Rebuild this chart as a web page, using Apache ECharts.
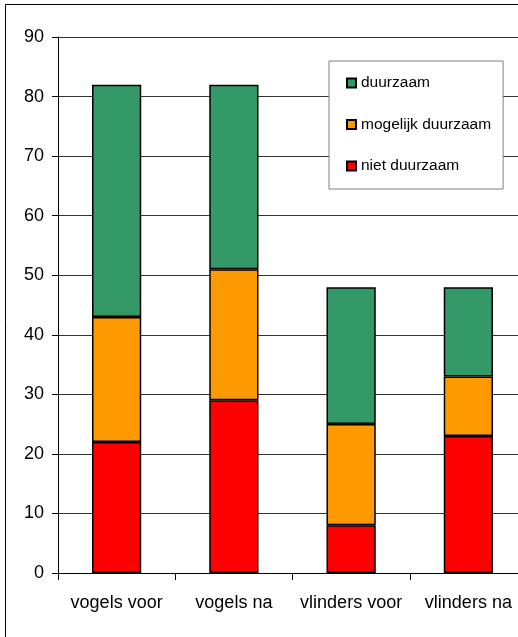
<!DOCTYPE html>
<html>
<head>
<meta charset="utf-8">
<script src="https://cdn.jsdelivr.net/npm/echarts@6/dist/echarts.min.js"></script>
<style>
  html, body { margin: 0; padding: 0; background: #fff; overflow: hidden; }
  #chart { width: 527px; height: 637px; }
</style>
</head>
<body>
<div id="chart"></div>
<script>
// Categories and stacked values per sustainability class
const categories = ['vogels voor', 'vogels na', 'vlinders voor', 'vlinders na'];
const nietDuurzaam = [22, 29, 8, 23];
const mogelijkDuurzaam = [21, 22, 17, 10];
const duurzaam = [39, 31, 23, 15];
const yTicks = [0, 10, 20, 30, 40, 50, 60, 70, 80, 90];

const font = 'Liberation Sans, Arial, sans-serif';

function barSeries(name, values, color) {
  return {
    name: name,
    type: 'bar',
    stack: 'totaal',
    data: values,
    barWidth: '42%',
    itemStyle: { color: color, borderColor: '#000', borderWidth: 1.5 },
    emphasis: { disabled: true }
  };
}

const chart = echarts.init(document.getElementById('chart'));
chart.setOption({
  animation: false,
  backgroundColor: '#fff',
  graphic: [{
    type: 'rect',
    shape: { x: 5.5, y: 4.5, width: 700, height: 800 },
    style: { fill: 'none', stroke: '#000', lineWidth: 1 },
    z: 100
  }],
  grid: { left: 58, top: 37, right: 0, bottom: 64, containLabel: false },
  legend: {
    data: ['duurzaam', 'mogelijk duurzaam', 'niet duurzaam'],
    orient: 'vertical',
    left: 329,
    top: 61,
    padding: [13, 12, 14, 17],
    itemGap: 23.5,
    itemWidth: 9,
    itemHeight: 9,
    icon: 'rect',
    backgroundColor: '#fff',
    borderColor: '#808080',
    borderWidth: 1,
    textStyle: { fontFamily: font, fontSize: 15.5, lineHeight: 18, color: '#000', padding: [0, 0, 0, 0] }
  },
  xAxis: {
    type: 'category',
    data: categories,
    axisLine: { lineStyle: { color: '#000', width: 1 } },
    axisTick: { show: true, interval: 0, length: 7, lineStyle: { color: '#000' } },
    axisLabel: { interval: 0, fontFamily: font, fontSize: 18, color: '#000', margin: 21 }
  },
  yAxis: {
    type: 'value',
    min: 0,
    max: 90,
    interval: 10,
    axisLine: { show: true, lineStyle: { color: '#000', width: 1 } },
    axisTick: { show: true, length: 6, lineStyle: { color: '#000' } },
    axisLabel: {
      fontFamily: font, fontSize: 18, color: '#000', margin: 14,
      formatter: v => (yTicks.includes(v) ? String(v) : '')
    },
    splitLine: { show: true, lineStyle: { color: '#333', width: 1 } }
  },
  series: [
    barSeries('niet duurzaam', nietDuurzaam, '#FF0000'),
    barSeries('mogelijk duurzaam', mogelijkDuurzaam, '#FF9900'),
    barSeries('duurzaam', duurzaam, '#339966')
  ]
});
</script>
</body>
</html>
